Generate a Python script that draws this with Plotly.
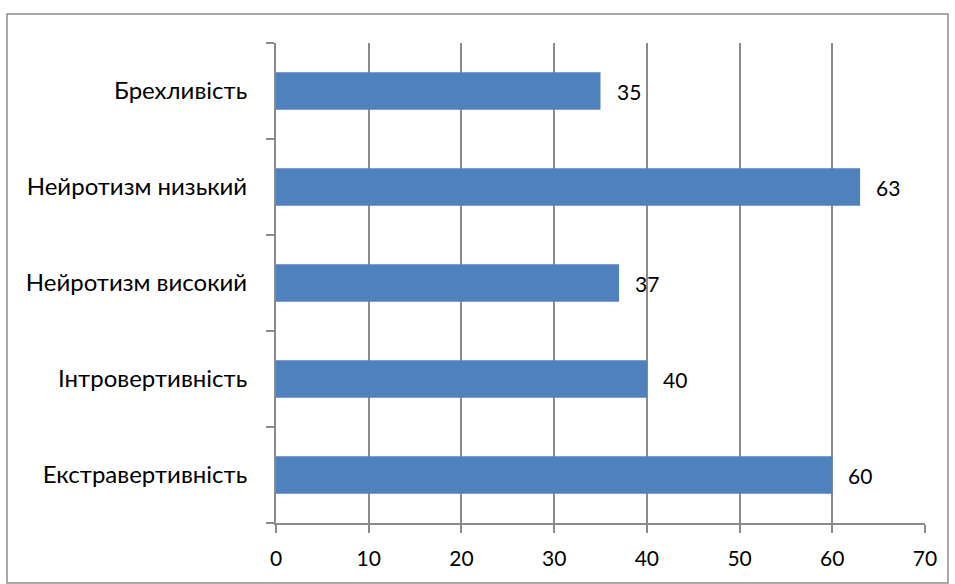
import plotly.graph_objects as go

categories = ["Екстравертивність", "Інтровертивність", "Нейротизм високий",
              "Нейротизм низький", "Брехливість"]
values = [60, 40, 37, 63, 35]
x_ticks = [0, 10, 20, 30, 40, 50, 60, 70]

W, H = 955, 584
L, R, T, B = 276, 30, 43, 61
pw, ph = W - L - R, H - T - B

FONT = "Lato"
FS = 21
FS_CAT = 24
GRID = "#8A8A8A"

fig = go.Figure()
fig.add_trace(go.Bar(
    x=values, y=categories, orientation="h",
    marker=dict(color="#4F81BD", line=dict(width=0)),
    width=0.39, hoverinfo="skip",
))

for c, v in zip(categories, values):
    fig.add_annotation(x=v, y=c, text=str(v), showarrow=False,
                       xanchor="left", yanchor="middle", xshift=14,
                       font=dict(family=FONT, size=FS, color="#000000"))

def px_x(p):
    return (p - L) / pw

def px_y(p):
    return (H - B - p) / ph

fig.add_shape(type="rect", xref="paper", yref="paper",
              x0=px_x(7), x1=px_x(948), y0=px_y(583), y1=px_y(14),
              line=dict(color="#8C8C8C", width=1.5), fillcolor="rgba(0,0,0,0)",
              layer="below")

fig.update_layout(
    width=W, height=H,
    margin=dict(l=L, r=R, t=T, b=B, pad=0),
    paper_bgcolor="white", plot_bgcolor="white",
    showlegend=False,
    font=dict(family=FONT, size=FS, color="#000000"),
    xaxis=dict(range=[0, 70], tickvals=x_ticks, ticktext=[str(t) for t in x_ticks],
               showgrid=True, gridcolor=GRID, gridwidth=2, zeroline=False,
               showline=True, linecolor=GRID, linewidth=2,
               ticks="outside", ticklen=8, tickcolor=GRID, tickwidth=2,
               ticklabelstandoff=8,
               tickfont=dict(family=FONT, size=FS, color="#000000"), fixedrange=True),
    yaxis=dict(type="category", categoryorder="array", categoryarray=categories,
               range=[-0.5, 4.5],
               showgrid=False, zeroline=False,
               showline=True, linecolor=GRID, linewidth=2,
               ticks="outside", ticklen=8, tickcolor=GRID, tickwidth=2,
               tickson="boundaries", ticklabelstandoff=22,
               tickfont=dict(family=FONT, size=FS_CAT, color="#000000"), fixedrange=True),
)

fig.write_html("out.html", config={"displayModeBar": False},
               post_script="document.body.style.margin='0';document.body.style.overflow='hidden';")
